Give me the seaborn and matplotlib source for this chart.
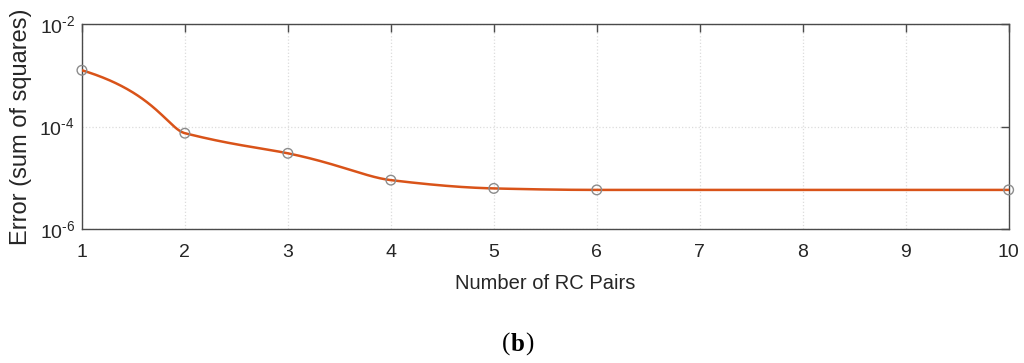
import numpy as np
import pandas as pd
import matplotlib
matplotlib.use("Agg")
import matplotlib.pyplot as plt
import seaborn as sns

# Data
rc_pairs = [1, 2, 3, 4, 5, 6, 10]
error_ssq = [1.25e-3, 7.4e-5, 3.0e-5, 9.0e-6, 6.2e-6, 5.8e-6, 5.8e-6]
x_ticks = [1, 2, 3, 4, 5, 6, 7, 8, 9, 10]
y_ticks = [1e-6, 1e-4, 1e-2]
y_tick_labels = [r"$10^{\text{-}6}$", r"$10^{\text{-}4}$", r"$10^{\text{-}2}$"]


def pchip(x, y, xs):
    x = np.asarray(x, float); y = np.asarray(y, float)
    h = np.diff(x); d = np.diff(y) / h
    n = len(x); m = np.zeros(n)
    for k in range(1, n - 1):
        if d[k - 1] * d[k] > 0:
            w1 = 2 * h[k] + h[k - 1]; w2 = h[k] + 2 * h[k - 1]
            m[k] = (w1 + w2) / (w1 / d[k - 1] + w2 / d[k])
    def end(h0, h1, d0, d1):
        s = ((2 * h0 + h1) * d0 - h0 * d1) / (h0 + h1)
        if np.sign(s) != np.sign(d0):
            s = 0.0
        elif np.sign(d0) != np.sign(d1) and abs(s) > abs(3 * d0):
            s = 3 * d0
        return s
    m[0] = end(h[0], h[1], d[0], d[1])
    m[-1] = end(h[-1], h[-2], d[-1], d[-2])
    idx = np.clip(np.searchsorted(x, xs) - 1, 0, n - 2)
    t = (xs - x[idx]) / h[idx]
    h00 = 2 * t**3 - 3 * t**2 + 1; h10 = t**3 - 2 * t**2 + t
    h01 = -2 * t**3 + 3 * t**2; h11 = t**3 - t**2
    return h00 * y[idx] + h10 * h[idx] * m[idx] + h01 * y[idx + 1] + h11 * h[idx] * m[idx + 1]


xs = np.linspace(rc_pairs[0], rc_pairs[-1], 800)
ys = pchip(rc_pairs, error_ssq, xs)
curve = pd.DataFrame({"x": xs, "y": ys})
pts = pd.DataFrame({"x": rc_pairs, "y": error_ssq})

sns.set_style("white")
plt.rcParams["font.family"] = ["Liberation Sans", "DejaVu Sans"]
plt.rcParams["mathtext.fontset"] = "custom"
plt.rcParams["mathtext.rm"] = "Liberation Sans"
plt.rcParams["mathtext.it"] = "Liberation Sans"
plt.rcParams["mathtext.bf"] = "Liberation Sans:bold"

fig = plt.figure(figsize=(10.24, 3.63), dpi=100)
ax = fig.add_axes([0.080, 0.369, 0.905, 0.565])

sns.lineplot(data=curve, x="x", y="y", ax=ax, color="#D95319", linewidth=1.8, zorder=3)
sns.scatterplot(data=pts, x="x", y="y", ax=ax, marker="o", s=48, facecolor="none",
                edgecolor="#8c8c8c", linewidth=1.0, zorder=4, clip_on=False)

ax.set_yscale("log")
ax.set_xlim(1, 10)
ax.set_ylim(1e-6, 1e-2)
ax.set_xticks(x_ticks)
ax.set_xticklabels([str(v) for v in x_ticks])
ax.set_yticks(y_ticks)
ax.set_yticklabels(y_tick_labels)
ax.yaxis.set_minor_locator(matplotlib.ticker.NullLocator())

ax.grid(True, which="major", color="#dcdcdc", linestyle=":", linewidth=0.9)
ax.set_axisbelow(True)
for sp in ax.spines.values():
    sp.set_color("#4a4a4a")
    sp.set_linewidth(1.0)
ax.tick_params(axis="both", which="major", direction="in", length=6, width=1.0,
               color="#4a4a4a", labelcolor="#262626", top=True, right=True)
ax.tick_params(axis="x", labelsize=14, pad=11)
ax.tick_params(axis="y", labelsize=14, pad=5)

ax.set_xlabel("Number of RC Pairs", fontsize=14.5, color="#262626", labelpad=9)
ax.set_ylabel("Error (sum of squares)", fontsize=17, color="#262626", labelpad=5)

fig.text(0.498, 0.052, "(", fontsize=18, family="Liberation Serif", ha="right", va="center", color="black")
fig.text(0.4985, 0.052, "b", fontsize=18, family="Liberation Serif", fontweight="bold", ha="left", va="center", color="black")
fig.text(0.5125, 0.052, ")", fontsize=18, family="Liberation Serif", ha="left", va="center", color="black")

fig.savefig("out.png", dpi=100, facecolor="white")
